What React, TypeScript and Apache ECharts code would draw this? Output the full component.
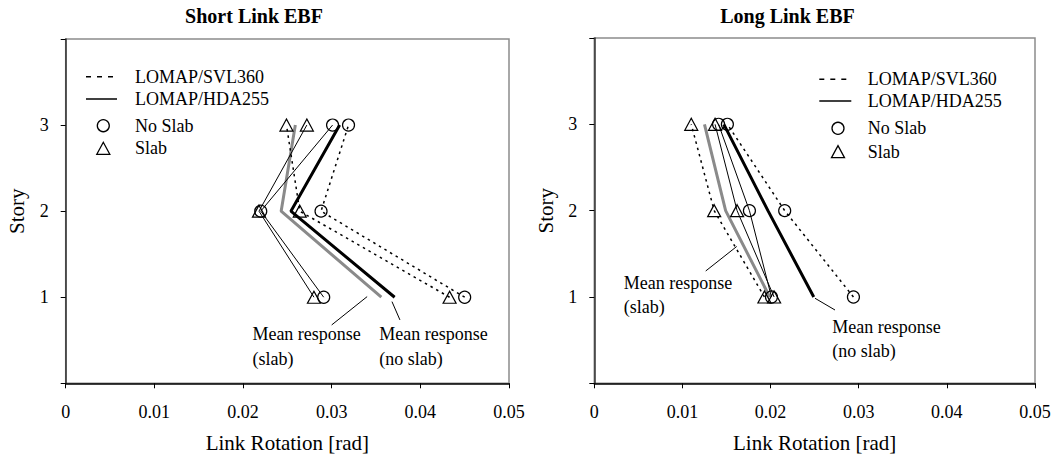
import React, { useEffect, useRef } from "react";
import * as echarts from "echarts";

const FONT = "Liberation Serif";

const stories = [1, 2, 3];
const xMin = 0;
const xMax = 0.05;
const xStep = 0.01;
const yMin = 0;
const yMax = 4;
const yHiddenLabels = [0, 4];
const panelTitles = ["Short Link EBF", "Long Link EBF"];
const xAxisName = "Link Rotation [rad]";
const yAxisName = "Story";
const legendLabels = ["LOMAP/SVL360", "LOMAP/HDA255", "No Slab", "Slab"];

// Short link EBF (values at story 1, 2, 3)
const shortSvlNoSlab = [0.045, 0.0288, 0.0319];
const shortSvlSlab = [0.0433, 0.0264, 0.0249];
const shortHdaNoSlab = [0.0291, 0.022, 0.0301];
const shortHdaSlab = [0.028, 0.0218, 0.0272];
const shortMeanNoSlab = [0.0371, 0.0254, 0.0309];
const shortMeanSlab = [0.0356, 0.0243, 0.0259];

// Long link EBF (values at story 1, 2, 3)
const longSvlNoSlab = [0.0294, 0.0216, 0.0151];
const longSvlSlab = [0.0193, 0.0136, 0.011];
const longHdaNoSlab = [0.0201, 0.0176, 0.0141];
const longHdaSlab = [0.0204, 0.0162, 0.0137];
const longMeanNoSlab = [0.0249, 0.0197, 0.0147];
const longMeanSlab = [0.0199, 0.0149, 0.0125];

// Annotations: [x, story, text]
const shortNotes = [
  [0.021, 0.57, "Mean response"],
  [0.021, 0.283, "(slab)"],
  [0.0353, 0.57, "Mean response"],
  [0.0353, 0.283, "(no slab)"],
];
const longNotes = [
  [0.00329, 1.159, "Mean response"],
  [0.00329, 0.888, "(slab)"],
  [0.02693, 0.656, "Mean response"],
  [0.02693, 0.374, "(no slab)"],
];
const shortLeaderSlab = [[0.03, 0.678], [0.034, 1.007]];
const shortLeaderNoSlab = [[0.0368, 0.949], [0.0377, 0.736]];
const longLeaderSlab = [[0.01264, 1.301], [0.01616, 1.585]];
const longLeaderNoSlab = [[0.02504, 0.985], [0.02731, 0.849]];

const grids = [
  { left: 65.7, top: 39, width: 443.3, height: 344.3 },
  { left: 594.3, top: 38, width: 440.7, height: 345.3 },
];
const titlePos = [
  [254, 15.5],
  [787.5, 15.5],
];
const legendPos = [
  { lx: 86, lw: 29, tx: 135, rows: [76.7, 99, 125.7, 148.3], mx: 103.3 },
  { lx: 819.3, lw: 30, tx: 867.7, rows: [79.3, 101, 128.3, 151.7], mx: 838 },
];

const pts = (xs: number[]) => xs.map((x, i) => [x, stories[i]]);

function rawSeries(gi: number, xs: number[], dashed: boolean, circle: boolean) {
  return {
    type: "line",
    xAxisIndex: gi,
    yAxisIndex: gi,
    data: pts(xs),
    symbol: circle ? "circle" : "triangle",
    symbolSize: circle ? 12 : [13, 12],
    itemStyle: { color: "rgba(0,0,0,0)", borderColor: "#000", borderWidth: 1.2 },
    lineStyle: { color: "#000", width: dashed ? 1.5 : 1, type: dashed ? [2.5, 4] : "solid" },
    z: 4,
    silent: true,
  };
}
function meanSeries(gi: number, xs: number[], color: string) {
  return {
    type: "line",
    xAxisIndex: gi,
    yAxisIndex: gi,
    data: pts(xs),
    symbol: "none",
    lineStyle: { color, width: 3 },
    z: 3,
    silent: true,
  };
}
function leaderSeries(gi: number, seg: number[][]) {
  return {
    type: "line",
    xAxisIndex: gi,
    yAxisIndex: gi,
    data: seg,
    symbol: "none",
    lineStyle: { color: "#000", width: 1 },
    silent: true,
  };
}
function noteSeries(gi: number, notes: any[]) {
  return {
    type: "scatter",
    xAxisIndex: gi,
    yAxisIndex: gi,
    data: notes,
    symbolSize: 1,
    itemStyle: { color: "rgba(0,0,0,0)" },
    label: {
      show: true,
      position: "right",
      distance: 0,
      formatter: (p: any) => p.data[2],
      color: "#000",
      opacity: 1,
      fontSize: 18,
      fontFamily: FONT,
    },
    silent: true,
  };
}

function legendGraphics(i: number) {
  const L = legendPos[i];
  const r = L.rows;
  const m = L.mx;
  const els: any[] = [
    {
      type: "line",
      shape: { x1: L.lx, y1: r[0], x2: L.lx + L.lw, y2: r[0] },
      style: { stroke: "#000", lineWidth: 1.5, lineDash: [5, 6] },
    },
    {
      type: "line",
      shape: { x1: L.lx, y1: r[1], x2: L.lx + L.lw + 2, y2: r[1] },
      style: { stroke: "#000", lineWidth: 1.5 },
    },
    {
      type: "circle",
      shape: { cx: m, cy: r[2], r: 6 },
      style: { stroke: "#000", fill: "none", lineWidth: 1.3 },
    },
    {
      type: "polygon",
      shape: { points: [[m - 6.5, r[3] + 6], [m + 6.5, r[3] + 6], [m, r[3] - 6]] },
      style: { stroke: "#000", fill: "none", lineWidth: 1.3 },
    },
  ];
  legendLabels.forEach((t, k) => {
    els.push({
      type: "text",
      x: L.tx,
      y: r[k],
      style: {
        text: t,
        fill: "#000",
        fontFamily: FONT,
        fontSize: 18,
        align: "left",
        verticalAlign: "middle",
      },
    });
  });
  return els;
}

export default function App() {
  const ref = useRef<HTMLDivElement>(null);
  useEffect(() => {
    if (!ref.current) return;
    const chart = echarts.init(ref.current, undefined, { renderer: "svg" });
    const xAxes = grids.map((_, gi) => ({
      type: "value",
      gridIndex: gi,
      min: xMin,
      max: xMax,
      interval: xStep,
      name: xAxisName,
      nameLocation: "middle",
      nameGap: 49,
      nameTextStyle: { color: "#000", fontSize: 21, fontFamily: FONT },
      axisLine: { show: true, onZero: false, lineStyle: { color: "#000", width: 1.5 } },
      axisTick: { show: true, inside: false, length: 5, lineStyle: { color: "#000", width: 1 } },
      axisLabel: {
        color: "#000",
        fontSize: 18,
        fontFamily: FONT,
        margin: 20,
        formatter: (v: number) => (v === 0 ? "0" : String(+v.toFixed(2))),
      },
      splitLine: { show: false },
    }));
    const yAxes = grids.map((_, gi) => ({
      type: "value",
      gridIndex: gi,
      min: yMin,
      max: yMax,
      interval: 1,
      name: yAxisName,
      nameLocation: "middle",
      nameGap: 38,
      nameTextStyle: { color: "#000", fontSize: 21, fontFamily: FONT },
      axisLine: { show: true, onZero: false, lineStyle: { color: "#333", width: 1.5 } },
      axisTick: { show: true, inside: false, length: 5, lineStyle: { color: "#000", width: 1 } },
      axisLabel: {
        color: "#000",
        fontSize: 18,
        fontFamily: FONT,
        margin: 17,
        formatter: (v: number) => (yHiddenLabels.includes(v) ? "" : String(v)),
      },
      splitLine: { show: false },
    }));
    const option: any = {
      animation: false,
      backgroundColor: "#fff",
      textStyle: { fontFamily: FONT },
      grid: grids.map((g) => ({
        ...g,
        show: true,
        borderColor: "#8c8c8c",
        borderWidth: 1.5,
        backgroundColor: "rgba(0,0,0,0)",
        containLabel: false,
      })),
      xAxis: xAxes,
      yAxis: yAxes,
      series: [
        rawSeries(0, shortSvlNoSlab, true, true),
        rawSeries(0, shortSvlSlab, true, false),
        rawSeries(0, shortHdaNoSlab, false, true),
        rawSeries(0, shortHdaSlab, false, false),
        meanSeries(0, shortMeanSlab, "#8a8a8a"),
        meanSeries(0, shortMeanNoSlab, "#000"),
        leaderSeries(0, shortLeaderSlab),
        leaderSeries(0, shortLeaderNoSlab),
        noteSeries(0, shortNotes),
        rawSeries(1, longSvlNoSlab, true, true),
        rawSeries(1, longSvlSlab, true, false),
        rawSeries(1, longHdaNoSlab, false, true),
        rawSeries(1, longHdaSlab, false, false),
        meanSeries(1, longMeanSlab, "#8a8a8a"),
        meanSeries(1, longMeanNoSlab, "#000"),
        leaderSeries(1, longLeaderSlab),
        leaderSeries(1, longLeaderNoSlab),
        noteSeries(1, longNotes),
      ],
      graphic: [
        ...panelTitles.map((t, i) => ({
          type: "text",
          x: titlePos[i][0],
          y: titlePos[i][1],
          style: {
            text: t,
            fill: "#000",
            fontFamily: FONT,
            fontSize: 20,
            fontWeight: "bold",
            align: "center",
            verticalAlign: "middle",
          },
        })),
        ...legendGraphics(0),
        ...legendGraphics(1),
      ],
    };
    chart.setOption(option);
    return () => chart.dispose();
  }, []);
  return (
    <div
      ref={ref}
      style={{ position: "absolute", left: 0, top: 0, width: 1055, height: 465, background: "#fff" }}
    />
  );
}
